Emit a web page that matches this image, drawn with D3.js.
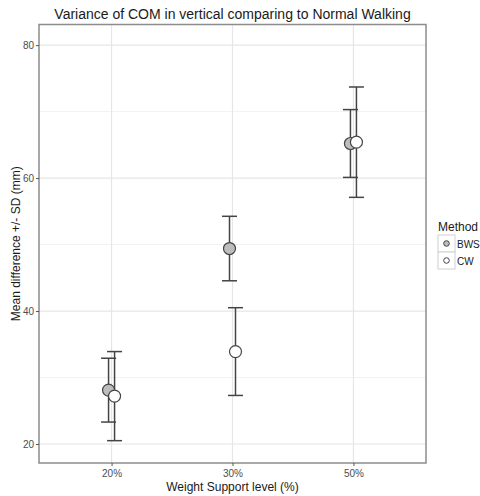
<!DOCTYPE html>
<html>
<head>
<meta charset="utf-8">
<script src="https://cdn.jsdelivr.net/npm/d3@7"></script>
<style>
  body { margin: 0; background: #fff; }
  text { font-family: "Liberation Sans", Arial, sans-serif; }
</style>
</head>
<body>
<div class="chart"></div>
<script>
// values
const levels = ["20%", "30%", "50%"];
const methods = ["BWS", "CW"];
const bwsMean = [28.1, 49.4, 65.2];
const bwsSD = [4.8, 4.85, 5.1];
const cwMean = [27.2, 33.9, 65.4];
const cwSD = [6.7, 6.6, 8.3];
const yTicks = [20, 40, 60, 80];
const yMinor = [30, 50, 70];

const width = 480;
const height = 496;
const margin = { top: 24.5, right: 54, bottom: 33, left: 39 };

const rows = [];
levels.forEach((lv, i) => {
  rows.push({ level: lv, method: "BWS", mean: bwsMean[i], sd: bwsSD[i] });
  rows.push({ level: lv, method: "CW", mean: cwMean[i], sd: cwSD[i] });
});

const svg = d3
  .select(".chart")
  .append("svg")
  .attr("width", width)
  .attr("height", height);

const x = d3
  .scalePoint()
  .domain(levels)
  .range([margin.left, width - margin.right])
  .padding(0.6);

const y = d3
  .scaleLinear()
  .domain([17.14, 83.1])
  .range([height - margin.bottom, margin.top]);

const dodge = { BWS: -3, CW: 3 };
const fill = { BWS: "#bdbdbd", CW: "#ffffff" };

// grid
const grid = svg.append("g");
grid
  .selectAll(".minor")
  .data(yMinor)
  .join("line")
  .attr("x1", margin.left)
  .attr("x2", width - margin.right)
  .attr("y1", (d) => y(d))
  .attr("y2", (d) => y(d))
  .attr("stroke", "#f2f2f2")
  .attr("stroke-width", 1);
grid
  .selectAll(".major")
  .data(yTicks)
  .join("line")
  .attr("x1", margin.left)
  .attr("x2", width - margin.right)
  .attr("y1", (d) => y(d))
  .attr("y2", (d) => y(d))
  .attr("stroke", "#e6e6e6")
  .attr("stroke-width", 1.2);
grid
  .selectAll(".vert")
  .data(levels)
  .join("line")
  .attr("x1", (d) => x(d))
  .attr("x2", (d) => x(d))
  .attr("y1", margin.top)
  .attr("y2", height - margin.bottom)
  .attr("stroke", "#e6e6e6")
  .attr("stroke-width", 1.2);

// error bars
const capW = 15;
const bars = svg.append("g").attr("stroke", "#444").attr("stroke-width", 1.5).attr("fill", "none");
rows.forEach((d) => {
  const cx = x(d.level) + dodge[d.method];
  const top = y(d.mean + d.sd);
  const bot = y(d.mean - d.sd);
  bars.append("line").attr("x1", cx).attr("x2", cx).attr("y1", top).attr("y2", bot);
  bars.append("line").attr("x1", cx - capW / 2).attr("x2", cx + capW / 2).attr("y1", top).attr("y2", top);
  bars.append("line").attr("x1", cx - capW / 2).attr("x2", cx + capW / 2).attr("y1", bot).attr("y2", bot);
});

// points
svg
  .append("g")
  .selectAll("circle")
  .data(rows)
  .join("circle")
  .attr("cx", (d) => x(d.level) + dodge[d.method])
  .attr("cy", (d) => y(d.mean))
  .attr("r", 6)
  .attr("fill", (d) => fill[d.method])
  .attr("stroke", "#444")
  .attr("stroke-width", 1.2);

// panel border
svg
  .append("rect")
  .attr("x", margin.left)
  .attr("y", margin.top)
  .attr("width", width - margin.right - margin.left)
  .attr("height", height - margin.bottom - margin.top)
  .attr("fill", "none")
  .attr("stroke", "#8c8c8c")
  .attr("stroke-width", 1.5);

// axes
const yAxis = svg
  .append("g")
  .attr("transform", `translate(${margin.left},0)`)
  .call(d3.axisLeft(y).tickValues(yTicks).tickSize(3).tickPadding(2));
const xAxis = svg
  .append("g")
  .attr("transform", `translate(0,${height - margin.bottom})`)
  .call(d3.axisBottom(x).tickSize(3).tickPadding(4));
[yAxis, xAxis].forEach((a) => {
  a.select(".domain").remove();
  a.selectAll(".tick line").attr("stroke", "#555");
  a.selectAll(".tick text")
    .attr("fill", "#4d4d4d")
    .style("font-size", "10px")
    .style("font-family", "'Liberation Sans', Arial, sans-serif");
});

// titles
svg
  .append("text")
  .attr("x", (margin.left + width - margin.right) / 2)
  .attr("y", 19)
  .attr("text-anchor", "middle")
  .style("font-size", "14px")
  .attr("fill", "#1a1a1a")
  .text("Variance of COM in vertical comparing to Normal Walking");

svg
  .append("text")
  .attr("x", (margin.left + width - margin.right) / 2)
  .attr("y", 491)
  .attr("text-anchor", "middle")
  .style("font-size", "12px")
  .attr("fill", "#1a1a1a")
  .text("Weight Support level (%)");

svg
  .append("text")
  .attr("transform", `translate(20,${(margin.top + height - margin.bottom) / 2}) rotate(-90)`)
  .attr("text-anchor", "middle")
  .style("font-size", "12px")
  .attr("fill", "#1a1a1a")
  .text("Mean difference +/- SD (mm)");

// legend
const legend = svg.append("g").attr("transform", "translate(438,225)");
legend
  .append("text")
  .attr("x", 0)
  .attr("y", 6)
  .style("font-size", "12px")
  .attr("fill", "#1a1a1a")
  .text("Method");
const keys = legend
  .selectAll(".key")
  .data(methods)
  .join("g")
  .attr("transform", (d, i) => `translate(0,${10 + i * 17})`);
keys
  .append("rect")
  .attr("width", 17)
  .attr("height", 17)
  .attr("fill", "#fff")
  .attr("stroke", "#d0d0d0")
  .attr("stroke-width", 1);
keys
  .append("circle")
  .attr("cx", 8.5)
  .attr("cy", 8.5)
  .attr("r", 2.8)
  .attr("fill", (d) => fill[d])
  .attr("stroke", "#444")
  .attr("stroke-width", 1);
keys
  .append("text")
  .attr("x", 19)
  .attr("y", 12.5)
  .style("font-size", "10px")
  .attr("fill", "#1a1a1a")
  .text((d) => d);
</script>
</body>
</html>
